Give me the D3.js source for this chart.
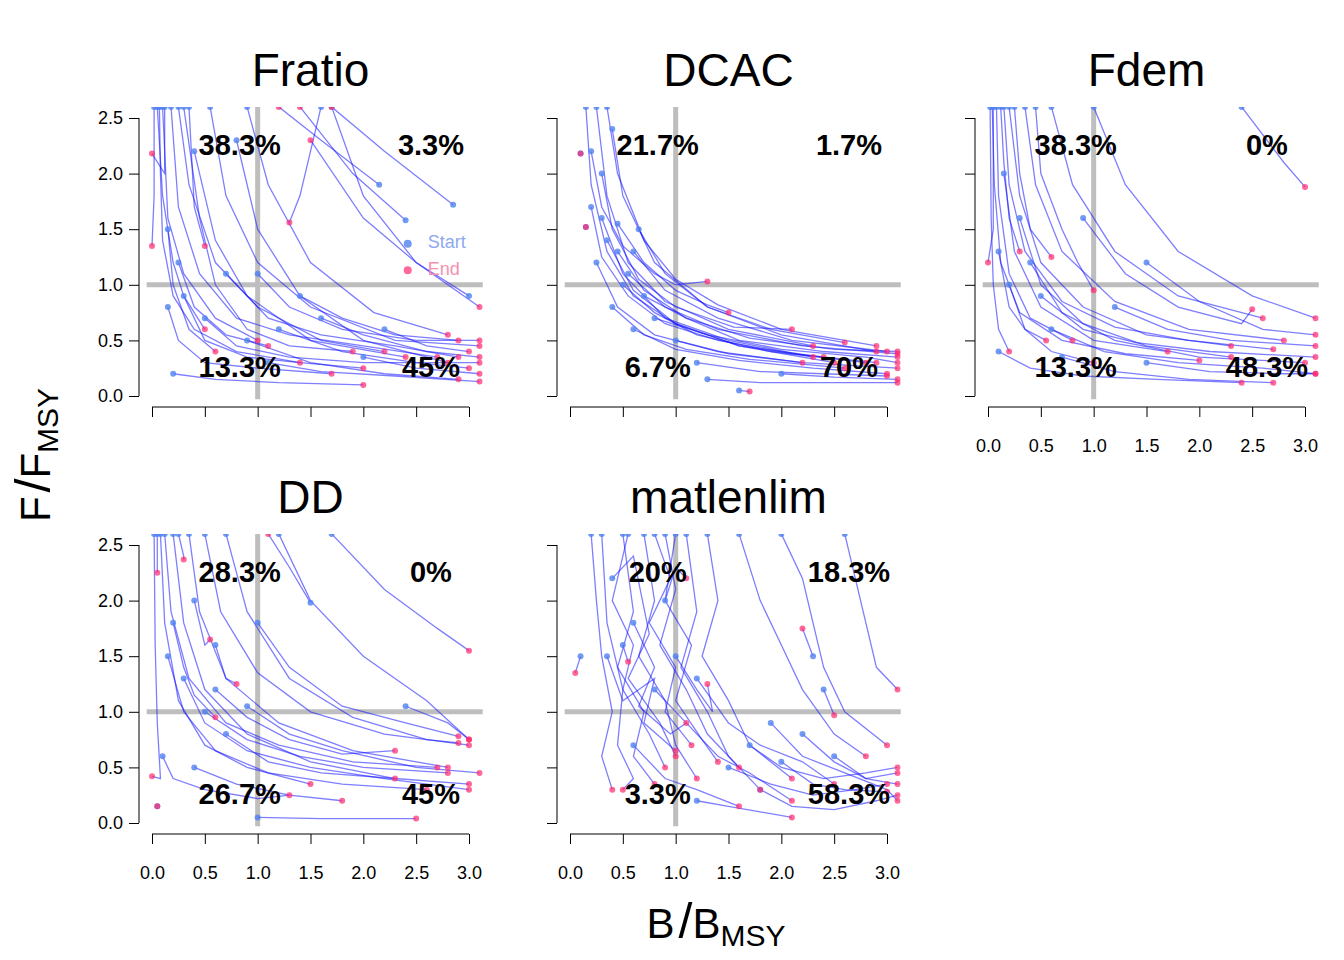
<!DOCTYPE html>
<html><head><meta charset="utf-8">
<script src="https://cdn.jsdelivr.net/npm/d3@7"></script>
<style>body{margin:0;background:#fff}</style>
</head><body>
<svg id="c" width="1344" height="960"></svg>
<script>
// panel names and quadrant percentages (TL, TR, BL, BR)
const panels = ["Fratio", "DCAC", "Fdem", "DD", "matlenlim"];
const pcts = [
  ["38.3%", "3.3%", "13.3%", "45%"],
  ["21.7%", "1.7%", "6.7%", "70%"],
  ["38.3%", "0%", "13.3%", "48.3%"],
  ["28.3%", "0%", "26.7%", "45%"],
  ["20%", "18.3%", "3.3%", "58.3%"]
];
const xTicks = [0, 0.5, 1, 1.5, 2, 2.5, 3];
const yTicks = [0, 0.5, 1, 1.5, 2, 2.5];
// trajectories "B,F B,F ..." (first = start, last = end)
const trajFratio = [
 "0.05,2.6 0.1,1.8 0.2,1.2 0.3,0.9 0.5,0.6","0.1,2.6 0.15,1.6 0.3,1.1 0.6,0.7 1.0,0.5",
 "0.25,2.6 0.35,1.9 0.6,1.2 1.0,0.8 1.6,0.5 2.2,0.4","2.15,1.9 1.6,2.3 1.2,2.6",
 "2.85,1.72 2.2,2.2 1.7,2.6","2.4,1.58 1.9,2.0 1.4,2.6","3.0,0.9 2.5,1.2 2.0,1.6 1.5,2.3",
 "0.8,2.3 1.0,1.5 1.4,0.9 2.0,0.5 2.8,0.3","0.4,2.2 0.6,1.4 0.9,0.9 1.5,0.5 2.4,0.35",
 "1.6,0.7 2.0,0.55 2.6,0.4 3.1,0.35","1.2,0.6 1.8,0.4 2.5,0.3 3.0,0.25","0.9,0.5 1.5,0.3 2.2,0.2 2.9,0.15",
 "0.2,0.2 0.6,0.15 1.2,0.12 2.0,0.1","0.3,0.9 0.5,0.5 0.9,0.35 1.4,0.3 2.0,0.25",
 "0.55,2.6 0.7,1.8 1.0,1.2 1.5,0.8 2.3,0.5 3.1,0.45","1.7,2.6 2.0,1.8 2.5,1.2 3.1,0.8",
 "0.15,1.5 0.2,1.0 0.35,0.6 0.6,0.4","2.2,0.6 2.6,0.45 3.0,0.4","1.6,2.6 1.4,1.8 1.3,1.56",
 "0.02,2.6 0.02,1.8 0.0,1.35","0.12,2.6 0.12,2.0 0.0,2.18","0.3,2.6 0.45,1.6 0.6,1.0 0.9,0.6 1.3,0.45 1.9,0.4",
 "0.7,1.1 1.1,0.7 1.6,0.55 2.3,0.45 2.9,0.35","0.15,0.8 0.25,0.5 0.5,0.3 1.0,0.25 1.7,0.2",
 "0.35,2.6 0.4,1.7 0.5,1.35","0.9,2.6 1.1,1.9 1.5,1.2 2.1,0.75 2.8,0.55","0.25,1.2 0.4,0.8 0.7,0.55 1.1,0.45",
 "1.0,1.1 1.3,0.8 1.8,0.6 2.5,0.5 3.1,0.5","0.5,0.7 0.8,0.45 1.3,0.35 2.0,0.3 3.1,0.3",
 "0.07,2.6 0.08,2.0 0.1,1.4 0.2,0.9 0.4,0.6 0.8,0.4 1.4,0.3","0.18,2.6 0.25,1.7 0.45,1.1 0.8,0.7 1.3,0.55 2.0,0.45 2.7,0.35",
 "1.4,0.9 1.8,0.7 2.3,0.55 2.9,0.5","2.0,0.35 2.5,0.25 3.1,0.2","1.1,0.3 1.6,0.22 2.3,0.18 3.1,0.13"
];
const trajDCAC = [
 "0.15,2.6 0.2,1.9 0.35,1.3 0.6,0.9 1.0,0.65 1.6,0.45 2.4,0.35","0.25,2.6 0.35,1.8 0.55,1.2 0.9,0.85 1.5,0.6 2.3,0.45",
 "0.4,2.4 0.5,1.8 0.8,1.2 1.3,0.8 2.0,0.55 2.9,0.4","0.3,1.6 0.5,1.1 0.9,0.7 1.5,0.5 2.3,0.35",
 "0.35,1.4 0.6,0.95 1.0,0.65 1.6,0.45 2.5,0.3","0.25,1.2 0.45,0.8 0.8,0.55 1.4,0.4 2.2,0.3",
 "0.5,1.0 0.8,0.75 1.2,0.55 1.9,0.4 2.8,0.3","0.4,0.8 0.7,0.55 1.1,0.42 1.7,0.33 2.6,0.25",
 "0.6,1.3 0.9,0.95 1.4,0.7 2.1,0.5 3.0,0.4","0.7,0.9 1.1,0.7 1.6,0.5 2.4,0.4 3.1,0.35",
 "0.3,2.0 0.4,1.5 0.65,1.05 1.0,0.8 1.55,0.62 2.1,0.6","0.45,1.55 0.7,1.2 1.0,0.95 1.3,0.82 1.5,0.75",
 "0.2,2.2 0.3,1.7 0.5,1.35 0.8,1.1 1.0,1.0 1.3,1.03","0.6,0.6 1.0,0.42 1.6,0.32 2.3,0.25 3.0,0.2",
 "1.2,0.3 1.8,0.22 2.4,0.2 3.0,0.18","1.3,0.15 1.8,0.12 2.6,0.12 3.1,0.12","0.1,2.18 0.1,2.18",
 "0.35,2.6 0.45,2.0 0.7,1.4 1.0,1.05 1.4,0.82 2.0,0.6 2.6,0.5 2.9,0.45",
 "0.55,1.1 0.9,0.8 1.4,0.6 2.2,0.45 3.1,0.38","0.8,0.7 1.3,0.55 2.0,0.42 2.8,0.35 3.1,0.3",
 "0.65,1.5 0.9,1.1 1.3,0.8 1.9,0.6 2.6,0.48","0.15,1.52 0.15,1.52","1.6,0.05 1.7,0.04",
 "0.2,1.7 0.3,1.25 0.55,0.9 0.9,0.65 1.4,0.5 2.1,0.38 2.9,0.3","0.45,1.3 0.7,0.95 1.1,0.7 1.7,0.52 2.5,0.42 3.1,0.4",
 "1.0,0.5 1.5,0.38 2.2,0.3 3.1,0.25","2.0,0.2 2.5,0.17 3.1,0.15"
];
const trajFdem = [
 "0.02,2.6 0.03,1.6 0.05,1.0 0.1,0.6 0.2,0.4","0.08,2.6 0.1,1.8 0.2,1.1 0.4,0.7 0.8,0.5",
 "0.2,2.6 0.3,1.8 0.5,1.2 0.9,0.8 1.5,0.55 2.3,0.45","0.35,2.6 0.45,1.9 0.7,1.3 1.2,0.85 1.9,0.6 2.8,0.5",
 "0.6,2.6 0.8,1.9 1.2,1.3 1.8,0.9 2.6,0.7","1.0,2.6 1.3,1.9 1.8,1.3 2.5,0.9 3.1,0.7",
 "2.4,2.6 2.8,2.1 3.0,1.88","0.15,2.0 0.25,1.3 0.5,0.8 1.0,0.5 1.7,0.4",
 "0.3,1.6 0.5,1.0 0.9,0.65 1.5,0.45 2.3,0.35","0.4,1.2 0.7,0.75 1.2,0.5 2.0,0.35 3.0,0.3",
 "0.1,0.4 0.4,0.25 0.9,0.18 1.6,0.15 2.4,0.12","0.7,0.35 1.2,0.22 1.9,0.15 2.7,0.12",
 "0.5,0.9 0.9,0.6 1.4,0.48 2.1,0.4 3.1,0.35","1.2,0.8 1.7,0.6 2.3,0.5 3.1,0.45",
 "0.05,2.6 0.05,2.0 0.05,1.5 0.0,1.2","0.12,2.6 0.15,2.1 0.2,1.6 0.3,1.3","0.25,2.6 0.3,2.0 0.4,1.5 0.6,1.25",
 "0.45,2.6 0.5,2.0 0.7,1.5 0.85,1.2 1.0,0.95","0.9,1.6 1.3,1.1 1.8,0.8 2.4,0.65 2.5,0.78",
 "0.2,1.0 0.35,0.6 0.6,0.4 1.0,0.3","1.5,1.2 2.0,0.85 2.6,0.6 3.1,0.55","0.6,0.6 1.1,0.4 1.8,0.3 2.6,0.25 3.1,0.2",
 "0.1,1.3 0.2,0.8 0.35,0.6 0.55,0.5","0.04,2.6 0.06,1.9 0.12,1.2 0.3,0.75 0.7,0.5 1.3,0.38 2.0,0.32",
 "0.15,2.6 0.2,1.9 0.35,1.3 0.7,0.85 1.2,0.62 1.9,0.5 2.7,0.42","1.5,0.3 2.1,0.22 2.8,0.2 3.1,0.2"
];
const trajDD = [
 "0.02,2.6 0.03,1.6 0.05,0.9 0.08,0.4 0.0,0.42","0.08,2.6 0.12,1.8 0.25,1.1 0.5,0.7 0.9,0.5 1.5,0.35",
 "0.2,2.6 0.3,1.8 0.5,1.2 0.9,0.8 1.5,0.55 2.3,0.4","0.35,2.6 0.45,1.9 0.7,1.3 1.2,0.9 1.9,0.65 2.8,0.5",
 "0.7,2.6 0.9,1.9 1.3,1.3 1.9,0.95 2.6,0.75 2.9,0.72","1.2,2.6 1.5,2.0 2.0,1.5 2.6,1.1 3.0,0.75",
 "1.7,2.6 2.2,2.1 2.7,1.75 3.0,1.55","1.0,1.8 1.3,1.4 1.8,1.05 2.4,0.9 2.9,0.78",
 "1.5,1.98 1.3,2.3 1.1,2.6","0.15,1.5 0.3,1.0 0.6,0.65 1.1,0.45 1.8,0.35 2.6,0.3",
 "0.3,1.3 0.5,0.9 0.9,0.65 1.5,0.5 2.2,0.4 3.0,0.3","0.5,1.0 0.9,0.75 1.4,0.6 2.0,0.5 2.8,0.45",
 "0.1,0.6 0.2,0.4 0.5,0.3 1.0,0.22 1.3,0.25","0.4,0.5 0.8,0.35 1.3,0.25 1.8,0.2","1.0,0.05 1.6,0.04 2.5,0.04",
 "0.6,1.6 0.7,1.3 0.8,1.25","0.4,2.0 0.5,1.6 0.55,1.65","0.25,2.6 0.3,2.4 0.3,2.37",
 "0.9,1.05 1.3,0.8 1.8,0.65 2.5,0.5 3.1,0.45","0.05,2.6 0.05,2.25","0.2,1.8 0.3,1.4 0.4,1.15 0.6,0.95",
 "0.6,1.2 0.9,0.95 1.3,0.75 1.8,0.62 2.3,0.65","0.7,0.8 1.1,0.55 1.6,0.45 2.3,0.4 3.0,0.35",
 "2.4,1.05 2.8,0.9 3.0,0.75","0.05,0.15 0.05,0.15","0.12,2.6 0.18,1.9 0.35,1.3 0.7,0.9 1.2,0.7 1.9,0.55 2.7,0.5",
 "0.5,2.6 0.65,1.9 1.0,1.35 1.5,1.0 2.2,0.8 3.0,0.7"
];
const trajMat = [
 "0.3,2.6 0.35,1.8 0.5,1.2 0.45,0.7 0.6,0.4 0.5,0.3","0.5,2.6 0.6,1.9 0.45,1.4 0.7,1.0 0.6,0.6 0.8,0.35",
 "0.7,2.6 0.8,2.0 0.65,1.5 0.9,1.1 1.0,0.7 1.2,0.4","0.9,2.6 1.0,2.1 0.85,1.6 1.1,1.2 1.3,0.8 1.6,0.5",
 "1.1,2.6 1.2,1.9 1.05,1.4 1.3,1.0 1.5,0.6 1.8,0.3","1.3,2.6 1.4,2.0 1.25,1.5 1.5,1.1 1.7,0.7 2.1,0.4",
 "0.4,2.2 0.6,2.4 0.75,1.7 0.55,1.3 0.85,0.9 1.0,0.6","0.6,1.8 0.8,1.4 0.65,1.05 0.95,0.8 1.1,0.9",
 "0.35,1.5 0.5,1.1 0.8,1.3 0.7,0.9 1.0,0.65","1.6,2.6 1.8,2.0 2.0,1.6 2.2,1.2 2.5,0.8 2.8,0.6",
 "2.0,2.6 2.2,2.2 2.3,1.8 2.4,1.4 2.6,1.0 3.0,0.7","2.6,2.6 2.7,2.2 2.8,1.8 2.9,1.4 3.1,1.2",
 "1.5,0.5 1.9,0.35 2.3,0.25 2.7,0.3 3.0,0.35","1.7,0.7 2.0,0.5 2.4,0.4 2.8,0.45 3.1,0.5",
 "1.8,0.3 2.1,0.15 2.5,0.12 2.9,0.2 3.1,0.25","2.0,0.55 2.3,0.35 2.6,0.3 3.0,0.28",
 "0.2,2.6 0.25,2.0 0.3,1.5 0.4,1.0 0.3,0.6 0.4,0.3","0.8,1.2 1.1,0.9 1.4,0.6 1.7,0.45 2.1,0.2",
 "1.2,1.3 1.5,0.9 1.8,0.7 2.2,0.55 2.5,0.35","0.6,0.7 0.9,0.4 1.2,0.3 1.6,0.15",
 "1.0,1.5 1.2,1.2 1.35,1.0 1.3,1.25","2.3,1.5 2.2,1.75","2.4,1.2 2.5,0.97","0.9,2.0 1.0,2.3 1.1,2.2",
 "0.1,1.5 0.05,1.35","0.5,1.6 0.55,1.45","1.2,0.2 1.5,0.15 1.8,0.1 2.1,0.05","2.5,0.6 2.8,0.4 3.1,0.45",
 "0.55,2.6 0.4,2.0 0.6,1.6 0.5,1.2 0.75,0.8 0.9,0.5","0.8,2.6 0.95,2.2 0.75,1.8 1.0,1.4 0.9,1.0 1.15,0.7",
 "1.0,2.6 0.9,2.0 1.15,1.6 1.0,1.1 1.25,0.75 1.4,0.55","2.2,0.8 2.5,0.55 2.8,0.4 3.1,0.35",
 "1.9,0.9 2.2,0.6 2.6,0.45 3.0,0.3 3.1,0.2"
];
const trajs = [trajFratio, trajDCAC, trajFdem, trajDD, trajMat];

const svg = d3.select("#c");
const colX = [152, 570, 988], rowY = [396, 823];
const parse = s => s.split(" ").map(p => p.split(",").map(Number));

panels.forEach((name, i) => {
  const col = i % 3, row = Math.floor(i / 3);
  const x0 = colX[col], y0 = rowY[row];
  const x = d3.scaleLinear().domain([0, 3]).range([x0, x0 + 317]);
  const y = d3.scaleLinear().domain([0, 2.5]).range([y0, y0 - 278]);
  const g = svg.append("g");
  const cid = "clip" + i;
  svg.append("clipPath").attr("id", cid).append("rect")
    .attr("x", x(-0.05)).attr("y", y(2.6)).attr("width", x(3.13) - x(-0.05)).attr("height", y(-0.03) - y(2.6));
  const p = g.append("g").attr("clip-path", `url(#${cid})`);
  p.append("line").attr("x1", x(-0.1)).attr("x2", x(3.2)).attr("y1", y(1)).attr("y2", y(1))
    .attr("stroke", "#bebebe").attr("stroke-width", 5);
  p.append("line").attr("x1", x(1)).attr("x2", x(1)).attr("y1", y(-0.1)).attr("y2", y(2.7))
    .attr("stroke", "#bebebe").attr("stroke-width", 5);
  const data = trajs[i].map(parse);
  const line = d3.line().x(d => x(d[0])).y(d => y(d[1]));
  p.selectAll("path.t").data(data).join("path").attr("d", line)
    .attr("fill", "none").attr("stroke", "rgba(20,20,255,0.55)").attr("stroke-width", 1.3);
  p.selectAll("circle.s").data(data).join("circle").attr("cx", d => x(d[0][0])).attr("cy", d => y(d[0][1]))
    .attr("r", 3).attr("fill", "rgba(80,130,240,0.8)");
  p.selectAll("circle.e").data(data).join("circle")
    .attr("cx", d => x(d[d.length - 1][0])).attr("cy", d => y(d[d.length - 1][1]))
    .attr("r", 3).attr("fill", "rgba(255,40,110,0.7)");
  // quadrant labels
  const q = pcts[i];
  [[0.83, 2.24, q[0]], [2.64, 2.24, q[1]], [0.83, 0.24, q[2]], [2.64, 0.24, q[3]]].forEach(t => {
    g.append("text").attr("x", x(t[0])).attr("y", y(t[1])).attr("text-anchor", "middle")
      .attr("dominant-baseline", "middle").attr("font-family", "Liberation Sans, Arial")
      .attr("font-weight", "bold").attr("font-size", 29).text(t[2]);
  });
  // axes
  const showX = (row === 0 && col === 2) || row === 1;
  const ax = d3.axisBottom(x).tickValues(xTicks).tickSize(10).tickFormat(showX ? d3.format(".1f") : "");
  const axg = g.append("g").attr("transform", `translate(0,${y0 + 11})`).call(ax);
  axg.select(".domain").attr("d", `M${x(0)},0H${x(3)}`);
  axg.selectAll("text").attr("font-size", 18).attr("dy", "1.8em").attr("font-family", "Liberation Sans, Arial");
  const ay = d3.axisLeft(y).tickValues(yTicks).tickSize(10).tickFormat(col === 0 ? d3.format(".1f") : "");
  const ayg = g.append("g").attr("transform", `translate(${x0 - 13},0)`).call(ay);
  ayg.select(".domain").attr("d", `M0,${y(0)}V${y(2.5)}`);
  ayg.selectAll("text").attr("font-size", 18).attr("x", -16).attr("font-family", "Liberation Sans, Arial");
  svg.append("text").attr("x", x(1.5)).attr("y", row === 0 ? 86 : 513).attr("text-anchor", "middle")
    .attr("font-family", "Liberation Sans, Arial").attr("font-size", 46).text(name);
  if (i === 0) {
    [["Start", 1.37, "rgba(80,130,240,0.8)", "#8fa8f0"], ["End", 1.13, "rgba(255,40,110,0.7)", "#f590b0"]].forEach(l => {
      g.append("circle").attr("cx", x(2.42)).attr("cy", y(l[1])).attr("r", 4).attr("fill", l[2]);
      g.append("text").attr("x", x(2.61)).attr("y", y(l[1])).attr("dominant-baseline", "middle")
        .attr("font-family", "Liberation Sans, Arial").attr("font-size", 18).attr("fill", l[3]).text(l[0]);
    });
  }
});
// axis titles
const yl = svg.append("text").attr("transform", "translate(50,455) rotate(-90)").attr("text-anchor", "middle")
  .attr("font-family", "Liberation Sans, Arial").attr("font-size", 42);
yl.append("tspan").text("F");
yl.append("tspan").attr("font-size", 50).attr("dx", 4).text("/");
yl.append("tspan").text("F");
yl.append("tspan").attr("font-size", 30).attr("dy", 8).text("MSY");
const xl = svg.append("text").attr("x", 716).attr("y", 938).attr("text-anchor", "middle")
  .attr("font-family", "Liberation Sans, Arial").attr("font-size", 42);
xl.append("tspan").text("B");
xl.append("tspan").attr("font-size", 50).attr("dx", 4).text("/");
xl.append("tspan").text("B");
xl.append("tspan").attr("font-size", 30).attr("dy", 8).text("MSY");
</script>
</body></html>
